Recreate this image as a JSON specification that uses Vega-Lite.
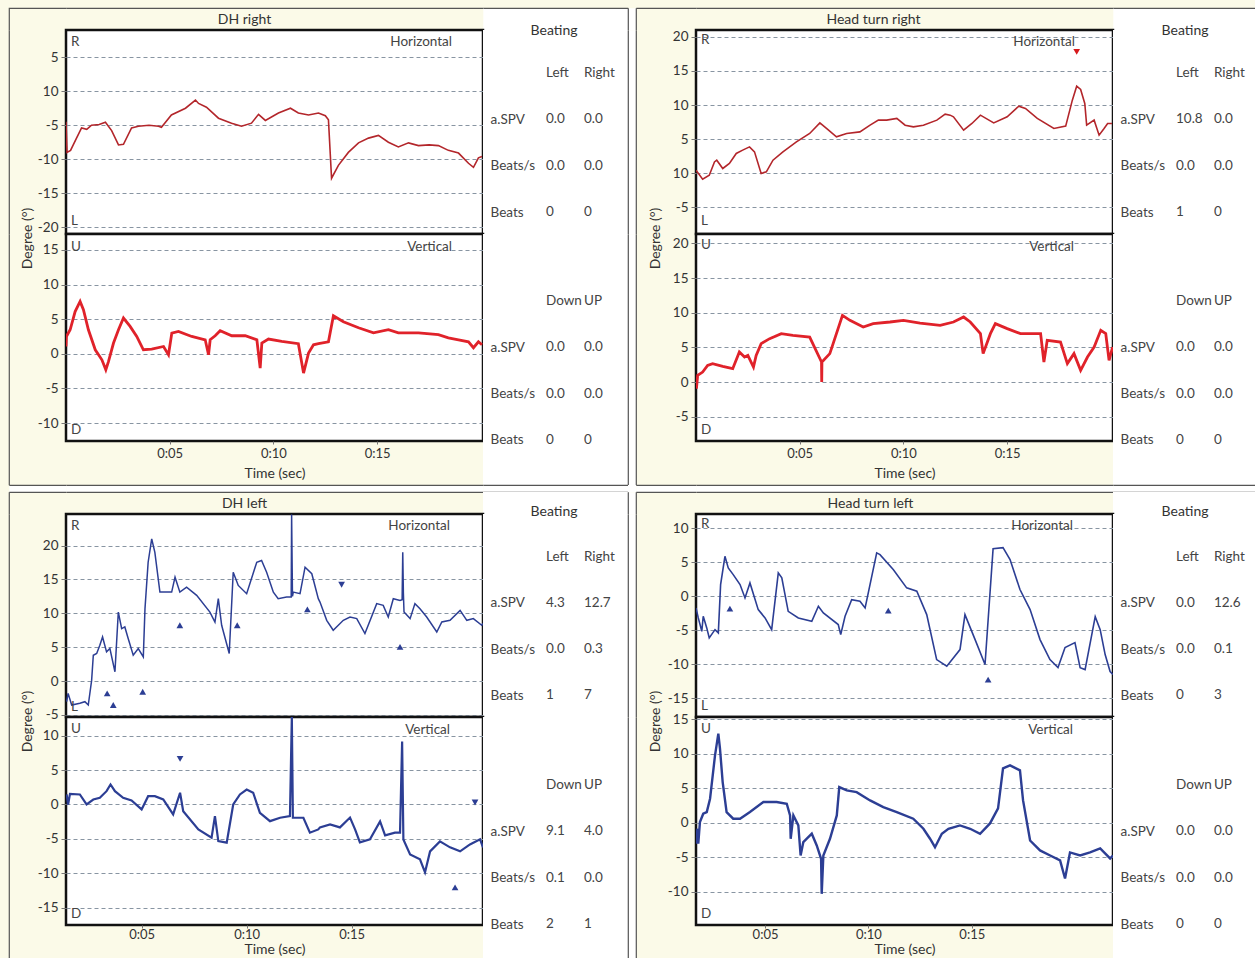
{
"$schema": "https://vega.github.io/schema/vega-lite/v6.json",
"autosize": {"type": "none"},
"padding": {"left": 9, "top": 8, "right": 1246, "bottom": 950},
"background": "#fbfae8",
"columns": 7,
"spacing": 0,
"bounds": "flush",
"align": "each",
"datasets": {
"tlh": [{"t":0,"v":-4.5},{"t":0.05,"v":-9.0},{"t":0.22,"v":-8.7},{"t":0.46,"v":-7.2},{"t":0.75,"v":-5.4},{"t":1.0,"v":-5.6},{"t":1.23,"v":-5.0},{"t":1.6,"v":-4.9},{"t":1.9,"v":-4.56},{"t":2.2,"v":-5.8},{"t":2.53,"v":-7.9},{"t":2.77,"v":-7.8},{"t":3.16,"v":-5.4},{"t":3.49,"v":-5.15},{"t":4.0,"v":-5.0},{"t":4.46,"v":-5.15},{"t":4.6,"v":-5.3},{"t":5.08,"v":-3.5},{"t":5.76,"v":-2.5},{"t":6.24,"v":-1.3},{"t":6.39,"v":-1.8},{"t":6.77,"v":-2.35},{"t":7.35,"v":-3.97},{"t":7.98,"v":-4.7},{"t":8.46,"v":-5.15},{"t":8.94,"v":-4.7},{"t":9.28,"v":-3.4},{"t":9.61,"v":-4.3},{"t":10.24,"v":-3.2},{"t":10.82,"v":-2.5},{"t":11.2,"v":-3.2},{"t":11.69,"v":-3.5},{"t":12.17,"v":-3.2},{"t":12.5,"v":-3.6},{"t":12.65,"v":-4.2},{"t":12.8,"v":-12.8},{"t":13.13,"v":-10.9},{"t":13.61,"v":-9.0},{"t":14.1,"v":-7.6},{"t":14.58,"v":-6.9},{"t":15.06,"v":-6.5},{"t":15.54,"v":-7.5},{"t":16.02,"v":-8.2},{"t":16.51,"v":-7.6},{"t":16.99,"v":-8.0},{"t":17.5,"v":-7.9},{"t":17.95,"v":-8.0},{"t":18.43,"v":-8.7},{"t":18.92,"v":-9.1},{"t":19.4,"v":-10.6},{"t":19.64,"v":-11.2},{"t":19.88,"v":-9.8},{"t":20.05,"v":-9.6}],
"tlv": [{"t":0,"v":1.05},{"t":0.02,"v":2.5},{"t":0.2,"v":3.47},{"t":0.44,"v":6.1},{"t":0.68,"v":7.56},{"t":0.84,"v":6.36},{"t":1.08,"v":3.47},{"t":1.41,"v":0.58},{"t":1.73,"v":-0.87},{"t":1.92,"v":-2.31},{"t":2.05,"v":-1.11},{"t":2.29,"v":1.55},{"t":2.53,"v":3.47},{"t":2.77,"v":5.16},{"t":3.09,"v":3.95},{"t":3.41,"v":2.5},{"t":3.73,"v":0.58},{"t":4.13,"v":0.68},{"t":4.7,"v":1.05},{"t":4.94,"v":-0.14},{"t":5.1,"v":2.99},{"t":5.42,"v":3.22},{"t":6.06,"v":2.5},{"t":6.71,"v":2.02},{"t":6.87,"v":-0.14},{"t":6.95,"v":2.02},{"t":7.19,"v":2.6},{"t":7.43,"v":3.32},{"t":7.99,"v":2.6},{"t":8.64,"v":2.6},{"t":9.2,"v":2.02},{"t":9.36,"v":-2.07},{"t":9.44,"v":1.55},{"t":9.76,"v":2.12},{"t":10.4,"v":1.78},{"t":11.2,"v":1.45},{"t":11.45,"v":-2.79},{"t":11.69,"v":0.1},{"t":11.93,"v":1.3},{"t":12.17,"v":1.45},{"t":12.65,"v":1.73},{"t":12.89,"v":5.49},{"t":13.37,"v":4.62},{"t":14.1,"v":3.76},{"t":14.82,"v":3.03},{"t":15.54,"v":3.47},{"t":16.02,"v":3.03},{"t":16.99,"v":3.03},{"t":17.95,"v":2.75},{"t":18.43,"v":2.31},{"t":18.92,"v":2.02},{"t":19.4,"v":1.73},{"t":19.64,"v":0.87},{"t":19.88,"v":1.73},{"t":20.05,"v":1.3}],
"trh": [{"t":0,"v":0.45},{"t":0.32,"v":-0.87},{"t":0.64,"v":-0.28},{"t":0.89,"v":1.67},{"t":1.0,"v":1.92},{"t":1.29,"v":0.7},{"t":1.61,"v":1.44},{"t":1.94,"v":2.9},{"t":2.25,"v":3.39},{"t":2.58,"v":3.87},{"t":2.82,"v":3.14},{"t":3.14,"v":-0.03},{"t":3.39,"v":0.21},{"t":3.71,"v":1.92},{"t":4.19,"v":3.14},{"t":4.84,"v":4.6},{"t":5.48,"v":5.84},{"t":5.97,"v":7.39},{"t":6.29,"v":6.57},{"t":6.77,"v":5.34},{"t":7.26,"v":5.84},{"t":7.9,"v":6.07},{"t":8.39,"v":7.05},{"t":8.79,"v":7.79},{"t":9.19,"v":7.79},{"t":9.68,"v":8.04},{"t":10.08,"v":7.05},{"t":10.48,"v":6.8},{"t":10.96,"v":7.05},{"t":11.61,"v":7.79},{"t":12.01,"v":8.67},{"t":12.25,"v":8.52},{"t":12.41,"v":8.27},{"t":12.9,"v":6.32},{"t":13.3,"v":7.3},{"t":13.71,"v":8.52},{"t":14.35,"v":7.39},{"t":15.0,"v":8.27},{"t":15.56,"v":9.84},{"t":15.88,"v":9.5},{"t":16.45,"v":8.04},{"t":17.25,"v":6.57},{"t":17.82,"v":6.91},{"t":18.14,"v":10.72},{"t":18.35,"v":12.77},{"t":18.54,"v":12.29},{"t":18.74,"v":10.23},{"t":18.83,"v":7.05},{"t":19.19,"v":7.79},{"t":19.43,"v":5.59},{"t":19.67,"v":6.57},{"t":19.84,"v":7.3},{"t":20.05,"v":7.3}],
"trh_m": [{"t":18.35,"v":17.8,"dir":"down"}],
"trv": [{"t":0,"v":0.72},{"t":0.02,"v":-0.95},{"t":0.08,"v":0.97},{"t":0.32,"v":1.44},{"t":0.56,"v":2.41},{"t":0.8,"v":2.66},{"t":1.29,"v":2.27},{"t":1.77,"v":1.93},{"t":2.09,"v":4.33},{"t":2.34,"v":3.61},{"t":2.5,"v":3.85},{"t":2.77,"v":2.16},{"t":2.9,"v":3.85},{"t":3.14,"v":5.54},{"t":3.55,"v":6.26},{"t":4.11,"v":6.98},{"t":4.67,"v":6.74},{"t":5.48,"v":6.49},{"t":6.05,"v":2.89},{"t":6.06,"v":0.0},{"t":6.07,"v":2.89},{"t":6.45,"v":4.1},{"t":6.61,"v":5.54},{"t":7.06,"v":9.62},{"t":7.42,"v":8.9},{"t":8.06,"v":7.94},{"t":8.54,"v":8.43},{"t":9.35,"v":8.66},{"t":10.0,"v":8.9},{"t":10.8,"v":8.51},{"t":11.77,"v":8.18},{"t":12.41,"v":8.66},{"t":12.9,"v":9.38},{"t":13.22,"v":8.66},{"t":13.71,"v":6.98},{"t":13.84,"v":4.1},{"t":14.19,"v":6.98},{"t":14.43,"v":8.43},{"t":15.0,"v":7.7},{"t":15.64,"v":6.98},{"t":16.61,"v":6.98},{"t":16.77,"v":2.89},{"t":16.93,"v":6.02},{"t":17.57,"v":5.77},{"t":17.9,"v":2.66},{"t":18.22,"v":4.1},{"t":18.54,"v":1.69},{"t":18.87,"v":3.61},{"t":19.19,"v":5.05},{"t":19.51,"v":7.46},{"t":19.75,"v":6.98},{"t":19.91,"v":3.13},{"t":20.08,"v":5.05}],
"blh": [{"t":1.43,"v":-3.04},{"t":1.5,"v":-1.81},{"t":1.67,"v":-3.53},{"t":2.06,"v":-3.28},{"t":2.3,"v":-3.04},{"t":2.46,"v":-3.53},{"t":2.62,"v":0.1},{"t":2.7,"v":3.82},{"t":2.86,"v":4.07},{"t":3.01,"v":5.29},{"t":3.14,"v":6.51},{"t":3.33,"v":4.31},{"t":3.49,"v":4.81},{"t":3.73,"v":1.37},{"t":3.89,"v":10.19},{"t":4.05,"v":7.75},{"t":4.2,"v":7.99},{"t":4.36,"v":6.28},{"t":4.6,"v":3.82},{"t":4.84,"v":4.81},{"t":5.08,"v":3.57},{"t":5.16,"v":10.69},{"t":5.31,"v":17.54},{"t":5.48,"v":20.99},{"t":5.63,"v":19.01},{"t":5.87,"v":13.13},{"t":6.19,"v":13.13},{"t":6.43,"v":13.13},{"t":6.59,"v":15.34},{"t":6.82,"v":13.13},{"t":7.14,"v":13.87},{"t":7.62,"v":12.65},{"t":8.25,"v":10.19},{"t":8.49,"v":8.72},{"t":8.65,"v":12.16},{"t":8.81,"v":8.24},{"t":9.17,"v":4.07},{"t":9.36,"v":16.07},{"t":9.6,"v":14.12},{"t":10.0,"v":12.9},{"t":10.48,"v":17.54},{"t":10.71,"v":17.79},{"t":10.95,"v":16.07},{"t":11.27,"v":13.13},{"t":11.5,"v":12.16},{"t":11.9,"v":12.4},{"t":12.12,"v":12.4},{"t":12.14,"v":24.6},{"t":12.18,"v":12.5},{"t":12.22,"v":13.13},{"t":12.54,"v":12.9},{"t":12.78,"v":16.81},{"t":13.1,"v":15.84},{"t":13.41,"v":12.16},{"t":13.49,"v":11.66},{"t":13.81,"v":8.97},{"t":14.12,"v":7.5},{"t":14.6,"v":8.97},{"t":14.92,"v":9.46},{"t":15.24,"v":9.22},{"t":15.63,"v":7.01},{"t":16.19,"v":11.43},{"t":16.5,"v":11.18},{"t":16.74,"v":9.46},{"t":16.98,"v":12.16},{"t":17.3,"v":11.9},{"t":17.4,"v":12.0},{"t":17.43,"v":19.01},{"t":17.46,"v":13.0},{"t":17.49,"v":10.19},{"t":17.78,"v":9.22},{"t":18.01,"v":11.43},{"t":18.25,"v":10.69},{"t":18.57,"v":9.46},{"t":19.05,"v":7.25},{"t":19.29,"v":8.72},{"t":19.68,"v":8.97},{"t":20.16,"v":10.44},{"t":20.48,"v":8.97},{"t":20.79,"v":9.22},{"t":21.19,"v":8.24},{"t":21.25,"v":8.5}],
"blh_m": [{"t":3.36,"v":-1.81,"dir":"up"},{"t":3.65,"v":-3.53,"dir":"up"},{"t":5.05,"v":-1.57,"dir":"up"},{"t":6.82,"v":8.24,"dir":"up"},{"t":9.55,"v":8.24,"dir":"up"},{"t":12.89,"v":10.59,"dir":"up"},{"t":14.52,"v":14.22,"dir":"down"},{"t":17.3,"v":5.04,"dir":"up"}],
"blv": [{"t":1.43,"v":1.45},{"t":1.5,"v":0},{"t":1.59,"v":1.55},{"t":2.06,"v":1.45},{"t":2.38,"v":0},{"t":2.7,"v":0.72},{"t":3.01,"v":0.97},{"t":3.33,"v":1.93},{"t":3.52,"v":2.9},{"t":3.73,"v":1.93},{"t":4.12,"v":0.97},{"t":4.52,"v":0.58},{"t":5.0,"v":-0.72},{"t":5.31,"v":1.2},{"t":5.63,"v":1.2},{"t":6.03,"v":0.72},{"t":6.5,"v":-1.45},{"t":6.83,"v":1.7},{"t":6.98,"v":-0.97},{"t":7.7,"v":-3.62},{"t":8.33,"v":-4.83},{"t":8.49,"v":-1.7},{"t":8.65,"v":-5.32},{"t":9.05,"v":-5.55},{"t":9.36,"v":0},{"t":9.68,"v":1.45},{"t":10.0,"v":2.17},{"t":10.31,"v":1.7},{"t":10.63,"v":-1.2},{"t":11.11,"v":-2.42},{"t":11.59,"v":-1.93},{"t":12.06,"v":-1.7},{"t":12.15,"v":12.7},{"t":12.2,"v":-1.9},{"t":12.7,"v":-1.93},{"t":13.01,"v":-4.1},{"t":13.41,"v":-3.62},{"t":13.49,"v":-3.33},{"t":13.97,"v":-2.9},{"t":14.44,"v":-3.33},{"t":14.92,"v":-1.9},{"t":15.16,"v":-3.62},{"t":15.39,"v":-5.5},{"t":15.87,"v":-5.07},{"t":16.35,"v":-2.46},{"t":16.59,"v":-4.49},{"t":17.06,"v":-4.1},{"t":17.3,"v":-4.1},{"t":17.4,"v":9.13},{"t":17.46,"v":-5.07},{"t":17.78,"v":-7.25},{"t":18.25,"v":-7.97},{"t":18.49,"v":-9.86},{"t":18.73,"v":-6.81},{"t":19.2,"v":-5.36},{"t":19.68,"v":-6.23},{"t":20.16,"v":-6.81},{"t":20.63,"v":-5.8},{"t":21.11,"v":-5.07},{"t":21.25,"v":-6.23}],
"blv_m": [{"t":6.83,"v":6.62,"dir":"down"},{"t":19.92,"v":-12.03,"dir":"up"},{"t":20.87,"v":0.29,"dir":"down"}],
"brh": [{"t":1.66,"v":-1.71},{"t":1.77,"v":-3.18},{"t":1.94,"v":-5.15},{"t":2.01,"v":-2.94},{"t":2.18,"v":-4.65},{"t":2.3,"v":-6.12},{"t":2.58,"v":-4.9},{"t":2.74,"v":-5.38},{"t":2.85,"v":1.72},{"t":3.06,"v":5.88},{"t":3.22,"v":4.18},{"t":3.46,"v":3.19},{"t":3.79,"v":1.72},{"t":4.03,"v":-0.24},{"t":4.27,"v":1.97},{"t":4.67,"v":-1.96},{"t":5.0,"v":-3.18},{"t":5.32,"v":-4.9},{"t":5.64,"v":3.44},{"t":5.81,"v":2.71},{"t":6.12,"v":-2.21},{"t":6.61,"v":-3.18},{"t":7.26,"v":-3.68},{"t":7.58,"v":-1.47},{"t":7.82,"v":-2.44},{"t":8.54,"v":-4.16},{"t":8.66,"v":-5.63},{"t":8.87,"v":-2.94},{"t":9.19,"v":-0.49},{"t":9.59,"v":-0.74},{"t":9.84,"v":-1.71},{"t":10.4,"v":6.38},{"t":10.56,"v":6.13},{"t":11.2,"v":3.93},{"t":11.85,"v":1.24},{"t":12.34,"v":0.74},{"t":12.82,"v":-2.69},{"t":13.3,"v":-9.31},{"t":13.79,"v":-10.29},{"t":14.43,"v":-7.84},{"t":14.67,"v":-2.69},{"t":15.16,"v":-6.37},{"t":15.64,"v":-10.04},{"t":16.03,"v":7.01},{"t":16.51,"v":7.16},{"t":16.85,"v":5.4},{"t":17.33,"v":0.99},{"t":17.82,"v":-1.96},{"t":18.3,"v":-6.37},{"t":18.78,"v":-9.31},{"t":19.17,"v":-10.49},{"t":19.51,"v":-7.54},{"t":19.99,"v":-6.81},{"t":20.24,"v":-10.49},{"t":20.48,"v":-10.78},{"t":20.97,"v":-2.99},{"t":21.21,"v":-4.9},{"t":21.45,"v":-8.57},{"t":21.69,"v":-11.07},{"t":21.83,"v":-11.51}],
"brh_m": [{"t":3.3,"v":-1.81,"dir":"up"},{"t":10.96,"v":-2.1,"dir":"up"},{"t":15.79,"v":-12.25,"dir":"up"}],
"brv": [{"t":1.66,"v":-3.04},{"t":1.73,"v":-0.87},{"t":1.77,"v":-3.04},{"t":1.85,"v":0.09},{"t":2.01,"v":1.3},{"t":2.18,"v":1.54},{"t":2.34,"v":3.48},{"t":2.58,"v":9.75},{"t":2.74,"v":12.9},{"t":2.82,"v":10.72},{"t":2.95,"v":5.88},{"t":3.14,"v":1.54},{"t":3.46,"v":0.58},{"t":3.79,"v":0.58},{"t":4.27,"v":1.54},{"t":4.92,"v":2.99},{"t":5.56,"v":2.99},{"t":6.05,"v":2.75},{"t":6.21,"v":1.06},{"t":6.24,"v":-2.32},{"t":6.37,"v":1.06},{"t":6.61,"v":-0.39},{"t":6.72,"v":-4.74},{"t":6.85,"v":-2.81},{"t":7.26,"v":-1.59},{"t":7.5,"v":-3.29},{"t":7.71,"v":-5.22},{"t":7.74,"v":-10.29},{"t":7.82,"v":-4.74},{"t":8.14,"v":-2.32},{"t":8.47,"v":1.06},{"t":8.59,"v":5.16},{"t":8.95,"v":4.68},{"t":9.43,"v":4.43},{"t":10.08,"v":3.23},{"t":10.72,"v":2.26},{"t":11.37,"v":1.54},{"t":12.17,"v":0.58},{"t":12.66,"v":-0.87},{"t":12.98,"v":-2.32},{"t":13.22,"v":-3.54},{"t":13.55,"v":-1.59},{"t":13.87,"v":-0.87},{"t":14.43,"v":-0.39},{"t":14.92,"v":-0.87},{"t":15.4,"v":-1.59},{"t":15.88,"v":-0.1},{"t":16.27,"v":2.07},{"t":16.51,"v":7.87},{"t":16.85,"v":8.3},{"t":17.33,"v":7.58},{"t":17.48,"v":3.23},{"t":17.82,"v":-2.57},{"t":18.3,"v":-4.01},{"t":18.79,"v":-4.74},{"t":19.27,"v":-5.46},{"t":19.51,"v":-8.07},{"t":19.75,"v":-4.3},{"t":20.24,"v":-4.74},{"t":20.72,"v":-4.3},{"t":21.21,"v":-3.72},{"t":21.69,"v":-5.17},{"t":21.83,"v":-4.74}],
"tab_tl_h": [{"row":"head","col":"L","txt":"Left"},{"row":"head","col":"R","txt":"Right"},{"row":"a.SPV","col":"L","txt":"0.0"},{"row":"a.SPV","col":"R","txt":"0.0"},{"row":"Beats/s","col":"L","txt":"0.0"},{"row":"Beats/s","col":"R","txt":"0.0"},{"row":"Beats","col":"L","txt":"0"},{"row":"Beats","col":"R","txt":"0"}],
"tab_tl_v": [{"row":"head","col":"L","txt":"Down"},{"row":"head","col":"R","txt":"UP"},{"row":"a.SPV","col":"L","txt":"0.0"},{"row":"a.SPV","col":"R","txt":"0.0"},{"row":"Beats/s","col":"L","txt":"0.0"},{"row":"Beats/s","col":"R","txt":"0.0"},{"row":"Beats","col":"L","txt":"0"},{"row":"Beats","col":"R","txt":"0"}],
"tab_tr_h": [{"row":"head","col":"L","txt":"Left"},{"row":"head","col":"R","txt":"Right"},{"row":"a.SPV","col":"L","txt":"10.8"},{"row":"a.SPV","col":"R","txt":"0.0"},{"row":"Beats/s","col":"L","txt":"0.0"},{"row":"Beats/s","col":"R","txt":"0.0"},{"row":"Beats","col":"L","txt":"1"},{"row":"Beats","col":"R","txt":"0"}],
"tab_tr_v": [{"row":"head","col":"L","txt":"Down"},{"row":"head","col":"R","txt":"UP"},{"row":"a.SPV","col":"L","txt":"0.0"},{"row":"a.SPV","col":"R","txt":"0.0"},{"row":"Beats/s","col":"L","txt":"0.0"},{"row":"Beats/s","col":"R","txt":"0.0"},{"row":"Beats","col":"L","txt":"0"},{"row":"Beats","col":"R","txt":"0"}],
"tab_bl_h": [{"row":"head","col":"L","txt":"Left"},{"row":"head","col":"R","txt":"Right"},{"row":"a.SPV","col":"L","txt":"4.3"},{"row":"a.SPV","col":"R","txt":"12.7"},{"row":"Beats/s","col":"L","txt":"0.0"},{"row":"Beats/s","col":"R","txt":"0.3"},{"row":"Beats","col":"L","txt":"1"},{"row":"Beats","col":"R","txt":"7"}],
"tab_bl_v": [{"row":"head","col":"L","txt":"Down"},{"row":"head","col":"R","txt":"UP"},{"row":"a.SPV","col":"L","txt":"9.1"},{"row":"a.SPV","col":"R","txt":"4.0"},{"row":"Beats/s","col":"L","txt":"0.1"},{"row":"Beats/s","col":"R","txt":"0.0"},{"row":"Beats","col":"L","txt":"2"},{"row":"Beats","col":"R","txt":"1"}],
"tab_br_h": [{"row":"head","col":"L","txt":"Left"},{"row":"head","col":"R","txt":"Right"},{"row":"a.SPV","col":"L","txt":"0.0"},{"row":"a.SPV","col":"R","txt":"12.6"},{"row":"Beats/s","col":"L","txt":"0.0"},{"row":"Beats/s","col":"R","txt":"0.1"},{"row":"Beats","col":"L","txt":"0"},{"row":"Beats","col":"R","txt":"3"}],
"tab_br_v": [{"row":"head","col":"L","txt":"Down"},{"row":"head","col":"R","txt":"UP"},{"row":"a.SPV","col":"L","txt":"0.0"},{"row":"a.SPV","col":"R","txt":"0.0"},{"row":"Beats/s","col":"L","txt":"0.0"},{"row":"Beats/s","col":"R","txt":"0.0"},{"row":"Beats","col":"L","txt":"0"},{"row":"Beats","col":"R","txt":"0"}],
"blank": [{}]
},
"concat": [
{"width": 57, "height": 22, "view": {"fill": null, "stroke": "#555555", "strokeWidth": 1.2, "strokeDash": [57, 79, 22, 0]}, "data": {"name": "blank"}, "mark": {"type": "text"}, "encoding": {"text": {"value": ""}}},
{"width": 417, "height": 22, "view": {"fill": null, "stroke": "#555555", "strokeWidth": 1.2, "strokeDash": [417, 461]}, "data": {"name": "blank"}, "mark": {"type": "text"}, "encoding": {"text": {"value": ""}}},
{"width": 145, "height": 22, "view": {"fill": "white", "stroke": "#555555", "strokeWidth": 1.2, "strokeDash": [145, 189]}, "data": {"name": "blank"}, "mark": {"type": "text"}, "encoding": {"text": {"value": ""}}},
{"width": 8, "height": 22, "view": {"fill": "white", "stroke": "#555555", "strokeWidth": 1.2, "strokeDash": [0, 8, 22, 8, 22, 0]}, "data": {"name": "blank"}, "mark": {"type": "text"}, "encoding": {"text": {"value": ""}}},
{"width": 60, "height": 22, "view": {"fill": null, "stroke": "#555555", "strokeWidth": 1.2, "strokeDash": [60, 104]}, "data": {"name": "blank"}, "mark": {"type": "text"}, "encoding": {"text": {"value": ""}}},
{"width": 417, "height": 22, "view": {"fill": null, "stroke": "#555555", "strokeWidth": 1.2, "strokeDash": [417, 461]}, "data": {"name": "blank"}, "mark": {"type": "text"}, "encoding": {"text": {"value": ""}}},
{"width": 142, "height": 22, "view": {"fill": "white", "stroke": "#555555", "strokeWidth": 1.2, "strokeDash": [142, 186]}, "data": {"name": "blank"}, "mark": {"type": "text"}, "encoding": {"text": {"value": ""}}},

{"width": 57, "height": 204, "view": {"fill": null, "stroke": "#555555", "strokeWidth": 1.2, "strokeDash": [0, 318, 204, 0]}, "data": {"name": "blank"}, "mark": {"type": "text"}, "encoding": {"text": {"value": ""}}},
{
 "width": 417, "height": 204,
 "title": {"text": "DH right", "dx": -30, "offset": 3},
 "layer": [
  {"data": {"name": "tlh"}, "mark": {"type": "line", "color": "#b3262b", "strokeWidth": 1.6, "clip": true},
   "encoding": {
    "x": {"field": "t", "type": "quantitative", "scale": {"domain": [0, 20.1], "nice": false, "zero": false}, "axis": null},
    "y": {"field": "v", "type": "quantitative", "scale": {"domain": [-21, 9], "nice": false, "zero": false},
          "axis": {"values": [5, 0, -5, -10, -15, -20], "labelExpr": "datum.value == 0 ? '10' : '' + datum.value", "title": "Degree (°)", "titleX": -39, "titleY": 208, "titleBaseline": "middle"}}}},
  {"data": {"name": "blank"}, "mark": {"type": "text", "align": "left", "baseline": "top", "dx": 5, "dy": 5},
   "encoding": {"x": {"datum": 0, "type": "quantitative"}, "y": {"datum": 9, "type": "quantitative"}, "text": {"value": "R"}}},
  {"data": {"name": "blank"}, "mark": {"type": "text", "align": "left", "baseline": "bottom", "dx": 5, "dy": -6},
   "encoding": {"x": {"datum": 0, "type": "quantitative"}, "y": {"datum": -21, "type": "quantitative"}, "text": {"value": "L"}}},
  {"data": {"name": "blank"}, "mark": {"type": "text", "align": "right", "baseline": "top", "dx": -31, "dy": 5},
   "encoding": {"x": {"datum": 20.1, "type": "quantitative"}, "y": {"datum": 9, "type": "quantitative"}, "text": {"value": "Horizontal"}}}
 ]
},
{
 "width": 145, "height": 204, "view": {"stroke": null, "fill": "white"},
 "title": {"text": "Beating", "dx": -1.5, "offset": -8},
 "data": {"name": "tab_tl_h"},
 "mark": {"type": "text", "align": "left", "baseline": "middle"},
 "encoding": {
  "x": {"field": "col", "type": "nominal", "scale": {"type": "point", "domain": ["_a", "L", "R", "_b"], "padding": 0.408, "align": 0.806}, "axis": null},
  "y": {"field": "row", "type": "nominal", "scale": {"type": "point", "domain": ["head", "a.SPV", "Beats/s", "Beats"], "padding": 0.7, "align": 0.663},
        "axis": {"orient": "left", "ticks": false, "tickSize": 0, "grid": false, "domain": false, "labelAlign": "left", "labelPadding": -7, "labelFontSize": 13.5, "labelColor": "#444", "labelExpr": "datum.value == 'head' ? '' : datum.value", "title": null}},
  "text": {"field": "txt", "type": "nominal"}
 }
},
{"width": 8, "height": 204, "view": {"fill": "white", "stroke": "#555555", "strokeWidth": 1.2, "strokeDash": [0, 8, 204, 8, 204, 0]}, "data": {"name": "blank"}, "mark": {"type": "text"}, "encoding": {"text": {"value": ""}}},
{"width": 60, "height": 204, "view": {"stroke": null, "fill": null}, "data": {"name": "blank"}, "mark": {"type": "text"}, "encoding": {"text": {"value": ""}}},
{
 "width": 417, "height": 204,
 "title": {"text": "Head turn right", "dx": -31, "offset": 3},
 "layer": [
  {"data": {"name": "trh"}, "mark": {"type": "line", "color": "#b3262b", "strokeWidth": 1.6, "clip": true},
   "encoding": {
    "x": {"field": "t", "type": "quantitative", "scale": {"domain": [0, 20.1], "nice": false, "zero": false}, "axis": null},
    "y": {"field": "v", "type": "quantitative", "scale": {"domain": [-8.9, 21], "nice": false, "zero": false},
          "axis": {"values": [20, 15, 10, 5, 0, -5], "labelExpr": "datum.value == 0 ? '10' : '' + datum.value", "title": "Degree (°)", "titleX": -41, "titleY": 208, "titleBaseline": "middle"}}}},
  {"data": {"name": "trh_m"}, "mark": {"type": "point", "filled": true, "size": 45, "opacity": 1, "color": "#d7191c"},
   "encoding": {"x": {"field": "t", "type": "quantitative"}, "y": {"field": "v", "type": "quantitative"},
    "shape": {"field": "dir", "type": "nominal", "scale": {"domain": ["up", "down"], "range": ["triangle-up", "triangle-down"]}, "legend": null}}},
  {"data": {"name": "blank"}, "mark": {"type": "text", "align": "left", "baseline": "top", "dx": 5, "dy": 3},
   "encoding": {"x": {"datum": 0, "type": "quantitative"}, "y": {"datum": 21, "type": "quantitative"}, "text": {"value": "R"}}},
  {"data": {"name": "blank"}, "mark": {"type": "text", "align": "left", "baseline": "bottom", "dx": 5, "dy": -6},
   "encoding": {"x": {"datum": 0, "type": "quantitative"}, "y": {"datum": -8.9, "type": "quantitative"}, "text": {"value": "L"}}},
  {"data": {"name": "blank"}, "mark": {"type": "text", "align": "right", "baseline": "top", "dx": -38, "dy": 5},
   "encoding": {"x": {"datum": 20.1, "type": "quantitative"}, "y": {"datum": 21, "type": "quantitative"}, "text": {"value": "Horizontal"}}}
 ]
},
{
 "width": 142, "height": 204, "view": {"stroke": null, "fill": "white"},
 "title": {"text": "Beating", "dx": 1, "offset": -8},
 "data": {"name": "tab_tr_h"},
 "mark": {"type": "text", "align": "left", "baseline": "middle"},
 "encoding": {
  "x": {"field": "col", "type": "nominal", "scale": {"type": "point", "domain": ["_a", "L", "R", "_b"], "padding": 0.37, "align": 0.89}, "axis": null},
  "y": {"field": "row", "type": "nominal", "scale": {"type": "point", "domain": ["head", "a.SPV", "Beats/s", "Beats"], "padding": 0.7, "align": 0.663},
        "axis": {"orient": "left", "ticks": false, "tickSize": 0, "grid": false, "domain": false, "labelAlign": "left", "labelPadding": -7, "labelFontSize": 13.5, "labelColor": "#444", "labelExpr": "datum.value == 'head' ? '' : datum.value", "title": null}},
  "text": {"field": "txt", "type": "nominal"}
 }
},

{"width": 57, "height": 251, "view": {"fill": null, "stroke": "#555555", "strokeWidth": 1.2, "strokeDash": [0, 365, 251, 0]}, "data": {"name": "blank"}, "mark": {"type": "text"}, "encoding": {"text": {"value": ""}}},
{
 "width": 417, "height": 207,
 "layer": [
  {"data": {"name": "tlv"}, "mark": {"type": "line", "color": "#e0222a", "strokeWidth": 2.8, "clip": true},
   "encoding": {
    "x": {"field": "t", "type": "quantitative", "scale": {"domain": [0, 20.1], "nice": false, "zero": false},
          "axis": {"values": [5, 10, 15], "labelExpr": "'0:' + (datum.value < 10 ? '0' : '') + datum.value", "title": "Time (sec)", "titlePadding": 6}},
    "y": {"field": "v", "type": "quantitative", "scale": {"domain": [-12.6, 17.3], "nice": false, "zero": false},
          "axis": {"values": [15, 10, 5, 0, -5, -10], "labelExpr": "'' + datum.value", "title": null}}}},
  {"data": {"name": "blank"}, "mark": {"type": "text", "align": "left", "baseline": "top", "dx": 5, "dy": 6},
   "encoding": {"x": {"datum": 0, "type": "quantitative"}, "y": {"datum": 17.3, "type": "quantitative"}, "text": {"value": "U"}}},
  {"data": {"name": "blank"}, "mark": {"type": "text", "align": "left", "baseline": "bottom", "dx": 5, "dy": -4},
   "encoding": {"x": {"datum": 0, "type": "quantitative"}, "y": {"datum": -12.6, "type": "quantitative"}, "text": {"value": "D"}}},
  {"data": {"name": "blank"}, "mark": {"type": "text", "align": "right", "baseline": "top", "dx": -31, "dy": 6},
   "encoding": {"x": {"datum": 20.1, "type": "quantitative"}, "y": {"datum": 17.3, "type": "quantitative"}, "text": {"value": "Vertical"}}}
 ]
},
{
 "width": 145, "height": 251, "view": {"stroke": null, "fill": "white"},
 "data": {"name": "tab_tl_v"},
 "mark": {"type": "text", "align": "left", "baseline": "middle"},
 "encoding": {
  "x": {"field": "col", "type": "nominal", "scale": {"type": "point", "domain": ["_a", "L", "R", "_b"], "padding": 0.408, "align": 0.806}, "axis": null},
  "y": {"field": "row", "type": "nominal", "scale": {"type": "point", "domain": ["_w", "head", "a.SPV", "Beats/s", "Beats"], "padding": 0.71, "align": 0.315},
        "axis": {"orient": "left", "ticks": false, "tickSize": 0, "grid": false, "domain": false, "labelAlign": "left", "labelPadding": -7, "labelFontSize": 13.5, "labelColor": "#444", "labelExpr": "(datum.value == 'head' || datum.value == '_w') ? '' : datum.value", "title": null}},
  "text": {"field": "txt", "type": "nominal"}
 }
},
{"width": 8, "height": 251, "view": {"fill": "white", "stroke": "#555555", "strokeWidth": 1.2, "strokeDash": [0, 8, 251, 8, 251, 0]}, "data": {"name": "blank"}, "mark": {"type": "text"}, "encoding": {"text": {"value": ""}}},
{"width": 60, "height": 207, "view": {"stroke": null, "fill": null}, "data": {"name": "blank"}, "mark": {"type": "text"}, "encoding": {"text": {"value": ""}}},
{
 "width": 417, "height": 207,
 "layer": [
  {"data": {"name": "trv"}, "mark": {"type": "line", "color": "#e0222a", "strokeWidth": 2.8, "clip": true},
   "encoding": {
    "x": {"field": "t", "type": "quantitative", "scale": {"domain": [0, 20.1], "nice": false, "zero": false},
          "axis": {"values": [5, 10, 15], "labelExpr": "'0:' + (datum.value < 10 ? '0' : '') + datum.value", "title": "Time (sec)", "titlePadding": 6}},
    "y": {"field": "v", "type": "quantitative", "scale": {"domain": [-8.5, 21.35], "nice": false, "zero": false},
          "axis": {"values": [20, 15, 10, 5, 0, -5], "labelExpr": "'' + datum.value", "title": null}}}},
  {"data": {"name": "blank"}, "mark": {"type": "text", "align": "left", "baseline": "top", "dx": 5, "dy": 4},
   "encoding": {"x": {"datum": 0, "type": "quantitative"}, "y": {"datum": 21.35, "type": "quantitative"}, "text": {"value": "U"}}},
  {"data": {"name": "blank"}, "mark": {"type": "text", "align": "left", "baseline": "bottom", "dx": 5, "dy": -4},
   "encoding": {"x": {"datum": 0, "type": "quantitative"}, "y": {"datum": -8.5, "type": "quantitative"}, "text": {"value": "D"}}},
  {"data": {"name": "blank"}, "mark": {"type": "text", "align": "right", "baseline": "top", "dx": -39, "dy": 6},
   "encoding": {"x": {"datum": 20.1, "type": "quantitative"}, "y": {"datum": 21.35, "type": "quantitative"}, "text": {"value": "Vertical"}}}
 ]
},
{
 "width": 142, "height": 251, "view": {"stroke": null, "fill": "white"},
 "data": {"name": "tab_tr_v"},
 "mark": {"type": "text", "align": "left", "baseline": "middle"},
 "encoding": {
  "x": {"field": "col", "type": "nominal", "scale": {"type": "point", "domain": ["_a", "L", "R", "_b"], "padding": 0.37, "align": 0.89}, "axis": null},
  "y": {"field": "row", "type": "nominal", "scale": {"type": "point", "domain": ["_w", "head", "a.SPV", "Beats/s", "Beats"], "padding": 0.71, "align": 0.315},
        "axis": {"orient": "left", "ticks": false, "tickSize": 0, "grid": false, "domain": false, "labelAlign": "left", "labelPadding": -7, "labelFontSize": 13.5, "labelColor": "#444", "labelExpr": "(datum.value == 'head' || datum.value == '_w') ? '' : datum.value", "title": null}},
  "text": {"field": "txt", "type": "nominal"}
 }
},

{"width": 57, "height": 7, "view": {"fill": "white", "stroke": "#555555", "strokeWidth": 1.2, "strokeDash": [57, 7, 57, 7]}, "data": {"name": "blank"}, "mark": {"type": "text"}, "encoding": {"text": {"value": ""}}},
{"width": 417, "height": 7, "view": {"fill": "white", "stroke": "#555555", "strokeWidth": 1.2, "strokeDash": [417, 7, 417, 7]}, "data": {"name": "blank"}, "mark": {"type": "text"}, "encoding": {"text": {"value": ""}}},
{"width": 145, "height": 7, "view": {"fill": "white", "stroke": "#555555", "strokeWidth": 1.2, "strokeDash": [145, 7, 145, 7]}, "data": {"name": "blank"}, "mark": {"type": "text"}, "encoding": {"text": {"value": ""}}},
{"width": 8, "height": 7, "view": {"fill": "white", "stroke": null}, "data": {"name": "blank"}, "mark": {"type": "text"}, "encoding": {"text": {"value": ""}}},
{"width": 60, "height": 7, "view": {"fill": "white", "stroke": "#555555", "strokeWidth": 1.2, "strokeDash": [60, 7, 60, 7]}, "data": {"name": "blank"}, "mark": {"type": "text"}, "encoding": {"text": {"value": ""}}},
{"width": 417, "height": 7, "view": {"fill": "white", "stroke": "#555555", "strokeWidth": 1.2, "strokeDash": [417, 7, 417, 7]}, "data": {"name": "blank"}, "mark": {"type": "text"}, "encoding": {"text": {"value": ""}}},
{"width": 142, "height": 7, "view": {"fill": "white", "stroke": "#555555", "strokeWidth": 1.2, "strokeDash": [142, 7, 142, 7]}, "data": {"name": "blank"}, "mark": {"type": "text"}, "encoding": {"text": {"value": ""}}},

{"width": 57, "height": 22, "view": {"fill": null, "stroke": "#555555", "strokeWidth": 1.2, "strokeDash": [0, 136, 22, 0]}, "data": {"name": "blank"}, "mark": {"type": "text"}, "encoding": {"text": {"value": ""}}},
{"width": 417, "height": 22, "view": {"fill": null, "stroke": null}, "data": {"name": "blank"}, "mark": {"type": "text"}, "encoding": {"text": {"value": ""}}},
{"width": 145, "height": 22, "view": {"fill": "white", "stroke": null}, "data": {"name": "blank"}, "mark": {"type": "text"}, "encoding": {"text": {"value": ""}}},
{"width": 8, "height": 22, "view": {"fill": "white", "stroke": "#555555", "strokeWidth": 1.2, "strokeDash": [0, 8, 22, 8, 22, 0]}, "data": {"name": "blank"}, "mark": {"type": "text"}, "encoding": {"text": {"value": ""}}},
{"width": 60, "height": 22, "view": {"fill": null, "stroke": null}, "data": {"name": "blank"}, "mark": {"type": "text"}, "encoding": {"text": {"value": ""}}},
{"width": 417, "height": 22, "view": {"fill": null, "stroke": null}, "data": {"name": "blank"}, "mark": {"type": "text"}, "encoding": {"text": {"value": ""}}},
{"width": 142, "height": 22, "view": {"fill": "white", "stroke": null}, "data": {"name": "blank"}, "mark": {"type": "text"}, "encoding": {"text": {"value": ""}}},

{"width": 57, "height": 203, "view": {"fill": null, "stroke": "#555555", "strokeWidth": 1.2, "strokeDash": [0, 317, 203, 0]}, "data": {"name": "blank"}, "mark": {"type": "text"}, "encoding": {"text": {"value": ""}}},
{
 "width": 417, "height": 203,
 "title": {"text": "DH left", "dx": -30, "offset": 3},
 "layer": [
  {"data": {"name": "blh"}, "mark": {"type": "line", "color": "#2c3e94", "strokeWidth": 1.5, "clip": true},
   "encoding": {
    "x": {"field": "t", "type": "quantitative", "scale": {"domain": [1.4, 21.25], "nice": false, "zero": false}, "axis": null},
    "y": {"field": "v", "type": "quantitative", "scale": {"domain": [-5.3, 24.66], "nice": false, "zero": false},
          "axis": {"values": [20, 15, 10, 5, 0, -5], "labelExpr": "'' + datum.value", "title": "Degree (°)", "titleX": -39, "titleY": 207, "titleBaseline": "middle"}}}},
  {"data": {"name": "blh_m"}, "mark": {"type": "point", "filled": true, "size": 45, "opacity": 1, "color": "#2c3e94"},
   "encoding": {"x": {"field": "t", "type": "quantitative"}, "y": {"field": "v", "type": "quantitative"},
    "shape": {"field": "dir", "type": "nominal", "scale": {"domain": ["up", "down"], "range": ["triangle-up", "triangle-down"]}, "legend": null}}},
  {"data": {"name": "blank"}, "mark": {"type": "text", "align": "left", "baseline": "top", "dx": 5, "dy": 5},
   "encoding": {"x": {"datum": 1.4, "type": "quantitative"}, "y": {"datum": 24.66, "type": "quantitative"}, "text": {"value": "R"}}},
  {"data": {"name": "blank"}, "mark": {"type": "text", "align": "left", "baseline": "bottom", "dx": 5, "dy": -3},
   "encoding": {"x": {"datum": 1.4, "type": "quantitative"}, "y": {"datum": -5.3, "type": "quantitative"}, "text": {"value": "L"}}},
  {"data": {"name": "blank"}, "mark": {"type": "text", "align": "right", "baseline": "top", "dx": -33, "dy": 5},
   "encoding": {"x": {"datum": 21.25, "type": "quantitative"}, "y": {"datum": 24.66, "type": "quantitative"}, "text": {"value": "Horizontal"}}}
 ]
},
{
 "width": 145, "height": 203, "view": {"stroke": null, "fill": "white"},
 "title": {"text": "Beating", "dx": -1.5, "offset": -5},
 "data": {"name": "tab_bl_h"},
 "mark": {"type": "text", "align": "left", "baseline": "middle"},
 "encoding": {
  "x": {"field": "col", "type": "nominal", "scale": {"type": "point", "domain": ["_a", "L", "R", "_b"], "padding": 0.408, "align": 0.806}, "axis": null},
  "y": {"field": "row", "type": "nominal", "scale": {"type": "point", "domain": ["head", "a.SPV", "Beats/s", "Beats"], "padding": 0.7, "align": 0.663},
        "axis": {"orient": "left", "ticks": false, "tickSize": 0, "grid": false, "domain": false, "labelAlign": "left", "labelPadding": -7, "labelFontSize": 13.5, "labelColor": "#444", "labelExpr": "datum.value == 'head' ? '' : datum.value", "title": null}},
  "text": {"field": "txt", "type": "nominal"}
 }
},
{"width": 8, "height": 203, "view": {"fill": "white", "stroke": "#555555", "strokeWidth": 1.2, "strokeDash": [0, 8, 203, 8, 203, 0]}, "data": {"name": "blank"}, "mark": {"type": "text"}, "encoding": {"text": {"value": ""}}},
{"width": 60, "height": 203, "view": {"stroke": null, "fill": null}, "data": {"name": "blank"}, "mark": {"type": "text"}, "encoding": {"text": {"value": ""}}},
{
 "width": 417, "height": 203,
 "title": {"text": "Head turn left", "dx": -34, "offset": 3},
 "layer": [
  {"data": {"name": "brh"}, "mark": {"type": "line", "color": "#2c3e94", "strokeWidth": 1.6, "clip": true},
   "encoding": {
    "x": {"field": "t", "type": "quantitative", "scale": {"domain": [1.66, 21.83], "nice": false, "zero": false}, "axis": null},
    "y": {"field": "v", "type": "quantitative", "scale": {"domain": [-17.75, 12.1], "nice": false, "zero": false},
          "axis": {"values": [10, 5, 0, -5, -10, -15], "labelExpr": "'' + datum.value", "title": "Degree (°)", "titleX": -41, "titleY": 207, "titleBaseline": "middle"}}}},
  {"data": {"name": "brh_m"}, "mark": {"type": "point", "filled": true, "size": 45, "opacity": 1, "color": "#2c3e94"},
   "encoding": {"x": {"field": "t", "type": "quantitative"}, "y": {"field": "v", "type": "quantitative"},
    "shape": {"field": "dir", "type": "nominal", "scale": {"domain": ["up", "down"], "range": ["triangle-up", "triangle-down"]}, "legend": null}}},
  {"data": {"name": "blank"}, "mark": {"type": "text", "align": "left", "baseline": "top", "dx": 5, "dy": 3},
   "encoding": {"x": {"datum": 1.66, "type": "quantitative"}, "y": {"datum": 12.1, "type": "quantitative"}, "text": {"value": "R"}}},
  {"data": {"name": "blank"}, "mark": {"type": "text", "align": "left", "baseline": "bottom", "dx": 5, "dy": -4},
   "encoding": {"x": {"datum": 1.66, "type": "quantitative"}, "y": {"datum": -17.75, "type": "quantitative"}, "text": {"value": "L"}}},
  {"data": {"name": "blank"}, "mark": {"type": "text", "align": "right", "baseline": "top", "dx": -40, "dy": 5},
   "encoding": {"x": {"datum": 21.83, "type": "quantitative"}, "y": {"datum": 12.1, "type": "quantitative"}, "text": {"value": "Horizontal"}}}
 ]
},
{
 "width": 142, "height": 203, "view": {"stroke": null, "fill": "white"},
 "title": {"text": "Beating", "dx": 1, "offset": -5},
 "data": {"name": "tab_br_h"},
 "mark": {"type": "text", "align": "left", "baseline": "middle"},
 "encoding": {
  "x": {"field": "col", "type": "nominal", "scale": {"type": "point", "domain": ["_a", "L", "R", "_b"], "padding": 0.37, "align": 0.89}, "axis": null},
  "y": {"field": "row", "type": "nominal", "scale": {"type": "point", "domain": ["head", "a.SPV", "Beats/s", "Beats"], "padding": 0.7, "align": 0.663},
        "axis": {"orient": "left", "ticks": false, "tickSize": 0, "grid": false, "domain": false, "labelAlign": "left", "labelPadding": -7, "labelFontSize": 13.5, "labelColor": "#444", "labelExpr": "datum.value == 'head' ? '' : datum.value", "title": null}},
  "text": {"field": "txt", "type": "nominal"}
 }
},

{"width": 57, "height": 241, "view": {"fill": null, "stroke": "#555555", "strokeWidth": 1.2, "strokeDash": [0, 355, 241, 0]}, "data": {"name": "blank"}, "mark": {"type": "text"}, "encoding": {"text": {"value": ""}}},
{
 "width": 417, "height": 208,
 "layer": [
  {"data": {"name": "blv"}, "mark": {"type": "line", "color": "#2c3e94", "strokeWidth": 2.2, "clip": true},
   "encoding": {
    "x": {"field": "t", "type": "quantitative", "scale": {"domain": [1.4, 21.25], "nice": false, "zero": false},
          "axis": {"values": [5, 10, 15], "labelExpr": "'0:' + (datum.value < 10 ? '0' : '') + datum.value", "title": "Time (sec)", "titlePadding": 1, "labelPadding": 0}},
    "y": {"field": "v", "type": "quantitative", "scale": {"domain": [-17.5, 12.7], "nice": false, "zero": false},
          "axis": {"values": [10, 5, 0, -5, -10, -15], "labelExpr": "'' + datum.value", "title": null}}}},
  {"data": {"name": "blv_m"}, "mark": {"type": "point", "filled": true, "size": 45, "opacity": 1, "color": "#2c3e94"},
   "encoding": {"x": {"field": "t", "type": "quantitative"}, "y": {"field": "v", "type": "quantitative"},
    "shape": {"field": "dir", "type": "nominal", "scale": {"domain": ["up", "down"], "range": ["triangle-up", "triangle-down"]}, "legend": null}}},
  {"data": {"name": "blank"}, "mark": {"type": "text", "align": "left", "baseline": "top", "dx": 5, "dy": 5},
   "encoding": {"x": {"datum": 1.4, "type": "quantitative"}, "y": {"datum": 12.7, "type": "quantitative"}, "text": {"value": "U"}}},
  {"data": {"name": "blank"}, "mark": {"type": "text", "align": "left", "baseline": "bottom", "dx": 5, "dy": -4},
   "encoding": {"x": {"datum": 1.4, "type": "quantitative"}, "y": {"datum": -17.5, "type": "quantitative"}, "text": {"value": "D"}}},
  {"data": {"name": "blank"}, "mark": {"type": "text", "align": "right", "baseline": "top", "dx": -33, "dy": 6},
   "encoding": {"x": {"datum": 21.25, "type": "quantitative"}, "y": {"datum": 12.7, "type": "quantitative"}, "text": {"value": "Vertical"}}}
 ]
},
{
 "width": 145, "height": 241, "view": {"stroke": null, "fill": "white"},
 "data": {"name": "tab_bl_v"},
 "mark": {"type": "text", "align": "left", "baseline": "middle"},
 "encoding": {
  "x": {"field": "col", "type": "nominal", "scale": {"type": "point", "domain": ["_a", "L", "R", "_b"], "padding": 0.408, "align": 0.806}, "axis": null},
  "y": {"field": "row", "type": "nominal", "scale": {"type": "point", "domain": ["_w", "head", "a.SPV", "Beats/s", "Beats"], "padding": 0.6, "align": 0.39},
        "axis": {"orient": "left", "ticks": false, "tickSize": 0, "grid": false, "domain": false, "labelAlign": "left", "labelPadding": -7, "labelFontSize": 13.5, "labelColor": "#444", "labelExpr": "(datum.value == 'head' || datum.value == '_w') ? '' : datum.value", "title": null}},
  "text": {"field": "txt", "type": "nominal"}
 }
},
{"width": 8, "height": 241, "view": {"fill": "white", "stroke": "#555555", "strokeWidth": 1.2, "strokeDash": [0, 8, 241, 8, 241, 0]}, "data": {"name": "blank"}, "mark": {"type": "text"}, "encoding": {"text": {"value": ""}}},
{"width": 60, "height": 208, "view": {"stroke": null, "fill": null}, "data": {"name": "blank"}, "mark": {"type": "text"}, "encoding": {"text": {"value": ""}}},
{
 "width": 417, "height": 208,
 "layer": [
  {"data": {"name": "brv"}, "mark": {"type": "line", "color": "#2c3e94", "strokeWidth": 2.4, "clip": true},
   "encoding": {
    "x": {"field": "t", "type": "quantitative", "scale": {"domain": [1.66, 21.83], "nice": false, "zero": false},
          "axis": {"values": [5, 10, 15], "labelExpr": "'0:' + (datum.value < 10 ? '0' : '') + datum.value", "title": "Time (sec)", "titlePadding": 1, "labelPadding": 0}},
    "y": {"field": "v", "type": "quantitative", "scale": {"domain": [-14.8, 15.3], "nice": false, "zero": false},
          "axis": {"values": [15, 10, 5, 0, -5, -10], "labelExpr": "'' + datum.value", "title": null}}}},
  {"data": {"name": "blank"}, "mark": {"type": "text", "align": "left", "baseline": "top", "dx": 5, "dy": 5},
   "encoding": {"x": {"datum": 1.66, "type": "quantitative"}, "y": {"datum": 15.3, "type": "quantitative"}, "text": {"value": "U"}}},
  {"data": {"name": "blank"}, "mark": {"type": "text", "align": "left", "baseline": "bottom", "dx": 5, "dy": -4},
   "encoding": {"x": {"datum": 1.66, "type": "quantitative"}, "y": {"datum": -14.8, "type": "quantitative"}, "text": {"value": "D"}}},
  {"data": {"name": "blank"}, "mark": {"type": "text", "align": "right", "baseline": "top", "dx": -40, "dy": 6},
   "encoding": {"x": {"datum": 21.83, "type": "quantitative"}, "y": {"datum": 15.3, "type": "quantitative"}, "text": {"value": "Vertical"}}}
 ]
},
{
 "width": 142, "height": 241, "view": {"stroke": null, "fill": "white"},
 "data": {"name": "tab_br_v"},
 "mark": {"type": "text", "align": "left", "baseline": "middle"},
 "encoding": {
  "x": {"field": "col", "type": "nominal", "scale": {"type": "point", "domain": ["_a", "L", "R", "_b"], "padding": 0.37, "align": 0.89}, "axis": null},
  "y": {"field": "row", "type": "nominal", "scale": {"type": "point", "domain": ["_w", "head", "a.SPV", "Beats/s", "Beats"], "padding": 0.6, "align": 0.39},
        "axis": {"orient": "left", "ticks": false, "tickSize": 0, "grid": false, "domain": false, "labelAlign": "left", "labelPadding": -7, "labelFontSize": 13.5, "labelColor": "#444", "labelExpr": "(datum.value == 'head' || datum.value == '_w') ? '' : datum.value", "title": null}},
  "text": {"field": "txt", "type": "nominal"}
 }
}
],
"config": {
 "font": "Lato",
 "view": {"stroke": "#111111", "strokeWidth": 2.5, "fill": "white"},
 "axis": {"labelFont": "Lato", "labelFontSize": 13.5, "labelColor": "#333333", "titleFont": "Lato", "titleFontSize": 14, "titleFontWeight": "normal", "titleColor": "#333333", "tickColor": "#777777", "labelPadding": 3, "domain": false, "gridDash": [4, 3], "gridColor": "#8895a2", "gridWidth": 1},
 "axisY": {"grid": true, "tickSize": 5},
 "axisX": {"grid": false, "tickSize": 3, "labelFontSize": 13},
 "title": {"font": "Lato", "fontSize": 14, "fontWeight": "normal", "color": "#333333", "frame": "group", "baseline": "middle", "anchor": "middle"},
 "text": {"font": "Lato", "fontSize": 13.5, "color": "#444444"}
}
}
